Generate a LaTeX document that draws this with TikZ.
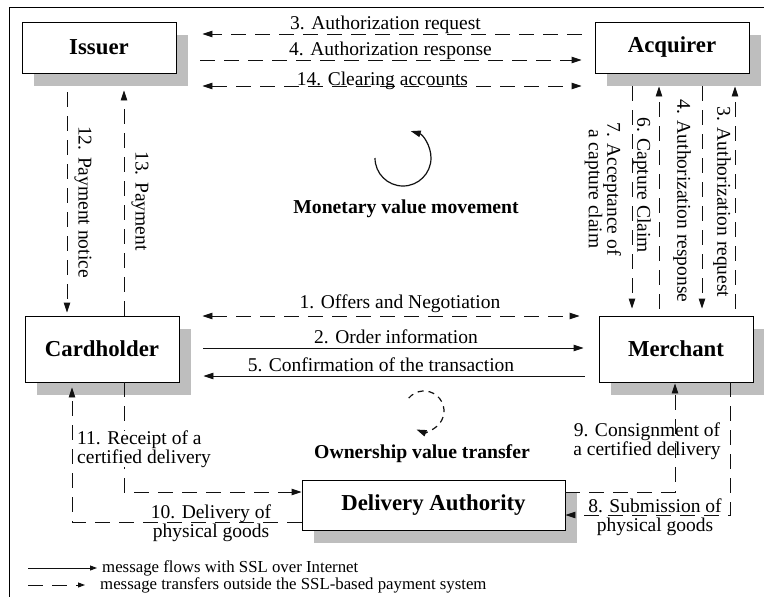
\documentclass[tikz,border=0pt]{standalone}
\usepackage{fontspec}
\setmainfont{Liberation Serif}
\usetikzlibrary{arrows.meta, positioning, calc, shadows}
\definecolor{shadowgray}{HTML}{BEBEBE}
\definecolor{linedark}{HTML}{111111}

\begin{document}
\begin{tikzpicture}[
    x=1pt, y=-1pt,
    >={Triangle[length=10pt, width=6.5pt]},
    % ── Node styles ──────────────────────────────────────────────────────
    party/.style={
        draw=black, fill=white, line width=0.9pt, inner sep=0pt,
        minimum width=154pt, minimum height=51pt,
        font=\fontsize{22.8}{26}\selectfont\bfseries,
        drop shadow={shadow xshift=12pt, shadow yshift=-13pt,
                     fill=shadowgray, opacity=1}
    },
    lbl/.style={
        font=\fontsize{19.5}{18.5}\selectfont, inner sep=0pt
    },
    vlbl/.style={lbl, rotate=-90},
    title/.style={
        font=\fontsize{19.7}{22}\selectfont\bfseries, inner sep=0pt
    },
    legtext/.style={
        font=\fontsize{16.8}{19}\selectfont, inner sep=0pt, anchor=west
    },
    % ── Arrow styles ─────────────────────────────────────────────────────
    sslarr/.style={->, line width=0.9pt, draw=linedark},
    dasharr/.style={sslarr, dash pattern=on 15pt off 9pt},
    dashboth/.style={dasharr, <->},
    cyclearr/.style={->, line width=1.2pt, draw=linedark}
]

\useasboundingbox (0,0) rectangle (764,597);
\draw[line width=0.9pt] (9,7) rectangle (790,620);

% ═══════════════════════════════════════════════════════════════════════════
% Parties
% ═══════════════════════════════════════════════════════════════════════════
\node[party] (iss) at (99,47.5) {Issuer};
\node[party] (acq) at (672,47.5) {Acquirer};
\node[party, minimum height=66pt] (card) at (102,349) {Cardholder};
\node[party, minimum height=66pt] (merch) at (676,349) {Merchant};
\node[party, minimum width=263pt, minimum height=50pt] (deliv)
    at (433.5,505) {Delivery Authority};

% ═══════════════════════════════════════════════════════════════════════════
% Issuer <-> Acquirer
% ═══════════════════════════════════════════════════════════════════════════
\draw[dasharr, shorten <=13pt, shorten >=26pt] (acq.west |- 0,34)
    -- node[lbl, anchor=base, yshift=4pt] {3. Authorization request}
    (iss.east |- 0,34);
\draw[dasharr, shorten <=24pt, shorten >=13pt] (iss.east |- 0,60)
    -- node[lbl, anchor=base, yshift=5pt, xshift=5pt] {4. Authorization response}
    (acq.west |- 0,60);
\draw[dashboth, shorten <=26pt, shorten >=13pt] (iss.east |- 0,86)
    -- node[lbl, anchor=base, yshift=1pt, xshift=-3pt] {14. Clearing accounts}
    (acq.west |- 0,86);

% Issuer <-> Cardholder
\draw[dasharr, shorten <=19pt, shorten >=3pt] (iss.south -| 67,0) -- (card.north -| 67,0);
\draw[dasharr, shorten >=17pt] (card.north -| 124,0) -- (iss.south -| 124,0);
\node[vlbl] (l12) at (83,202) {12. Payment notice};
\node[vlbl] (l13) at (140,201) {13. Payment};

% Acquirer <-> Merchant
\draw[dasharr, shorten <=13pt, shorten >=7pt] (acq.south -| 632,0) -- (merch.north -| 632,0);
\draw[dasharr, shorten <=7pt, shorten >=13pt] (merch.north -| 659,0) -- (acq.south -| 659,0);
\draw[dasharr, shorten <=13pt, shorten >=7pt] (acq.south -| 702,0) -- (merch.north -| 702,0);
\draw[dasharr, shorten <=7pt, shorten >=13pt] (merch.north -| 735,0) -- (acq.south -| 735,0);
\node[vlbl] (l3) at (722,202) {3. Authorization request};
\node[vlbl] (l4) at (682,201) {4. Authorization response};
\node[vlbl] (l6) at (642,185) {6. Capture Claim};
\node[vlbl, align=center] (l7) at (603,189) {7. Acceptance of\\a capture claim};

% ═══════════════════════════════════════════════════════════════════════════
% Cardholder <-> Merchant
% ═══════════════════════════════════════════════════════════════════════════
\draw[dashboth, shorten <=23pt, shorten >=19pt] (card.east |- 0,316)
    -- node[lbl, anchor=base, yshift=8pt, xshift=11pt] {1. Offers and Negotiation}
    (merch.west |- 0,316);
\draw[sslarr, shorten <=24pt, shorten >=15pt] (card.east |- 0,348)
    -- node[lbl, anchor=base, yshift=5pt, xshift=7pt] {2. Order information}
    (merch.west |- 0,348);
\draw[sslarr, shorten <=14pt, shorten >=24pt] (merch.west |- 0,376)
    -- node[lbl, anchor=base, yshift=5pt, xshift=-8pt] {5. Confirmation of the transaction}
    (card.east |- 0,376);

% ═══════════════════════════════════════════════════════════════════════════
% Delivery Authority
% ═══════════════════════════════════════════════════════════════════════════
\draw[dasharr, shorten >=5pt] (deliv.west |- 0,522) -| (card.south -| 72,0);
\draw[dasharr] (card.south -| 124,0) |- (deliv.west |- 0,492);
\draw[dasharr, shorten >=1pt] (deliv.east |- 0,492) -| (merch.south -| 675,0);
\draw[dasharr] (merch.south -| 730,0) |- (deliv.east |- 0,515);

\node[lbl, align=left, anchor=west, fill=white] (l11) at (77,449)
    {11. Receipt of a\\certified delivery};
\node[lbl, align=center] (l10) at (211,523) {10. Delivery of\\physical goods};
\node[lbl, align=center] (l9) at (647,441) {9. Consignment of\\a certified delivery};
\node[lbl, align=center] (l8) at (655,517) {8. Submission of\\physical goods};

% ═══════════════════════════════════════════════════════════════════════════
% Value cycles
% ═══════════════════════════════════════════════════════════════════════════
\node[title, anchor=base] (money) at (406,213) {Monetary value movement};
\coordinate (moneyc) at (403,158);
\draw[cyclearr] ($(moneyc)+(180:28pt)$) arc[start angle=180, end angle=434, radius=28pt];

\node[title, anchor=base] (owner) at (422,458) {Ownership value transfer};
\coordinate (ownerc) at (424,411);
\draw[cyclearr, dash pattern=on 6pt off 5pt]
    ($(ownerc)+(140:20pt)$) arc[start angle=140, end angle=-112, radius=20pt];

% ═══════════════════════════════════════════════════════════════════════════
% Legend
% ═══════════════════════════════════════════════════════════════════════════
\node[legtext] (leg1) at (102,568) {message flows with SSL over Internet};
\node[legtext] (leg2) at (100,585) {message transfers outside the SSL-based payment system};
\coordinate (leg1s) at (28,568);
\coordinate (leg2s) at (28,585);
\draw[sslarr, -{Triangle[length=7pt, width=5pt]}, shorten >=5pt] (leg1s) -- (leg1.west);
\draw[dasharr, -{Triangle[length=7pt, width=5pt]}, shorten >=15pt] (leg2s) -- (leg2.west);

\end{tikzpicture}
\end{document}
